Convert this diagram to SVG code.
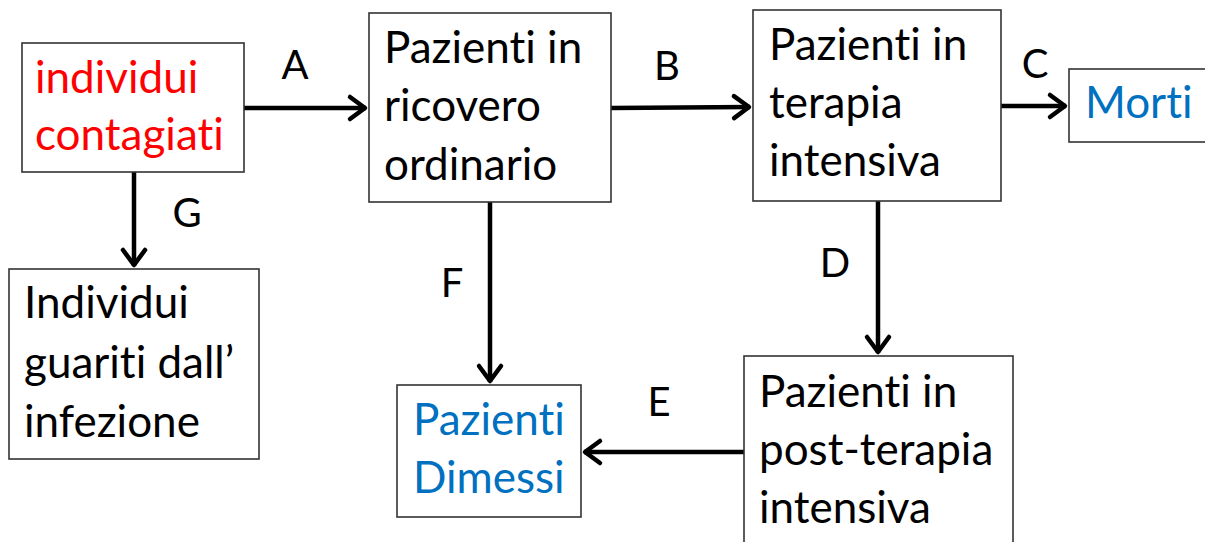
<svg xmlns="http://www.w3.org/2000/svg" width="1205" height="542" viewBox="0 0 1205 542">
<defs>
<style>
.box{fill:#fff;stroke:#333;stroke-width:1.6}
.t{font-family:Lato,"Open Sans","Liberation Sans",sans-serif;font-size:44px;fill:#000;font-variant-ligatures:none;font-feature-settings:"liga" 0,"clig" 0}
.red{fill:#ff0000}
.blue{fill:#0070c0}
.lbl{font-family:Lato,"Open Sans","Liberation Sans",sans-serif;font-size:40px;fill:#000;text-anchor:middle}
.c{stroke:#000;stroke-width:4.5;fill:none;marker-end:url(#ah)}
</style>
<marker id="ah" markerUnits="userSpaceOnUse" markerWidth="30" markerHeight="30" viewBox="-20 -15 24 30" refX="1" refY="0" orient="auto">
<path d="M-15,-11 L0,0 L-15,11" fill="none" stroke="#000" stroke-width="4.5" stroke-linejoin="round" stroke-linecap="round"/>
</marker>
</defs>
<rect width="1205" height="542" fill="#fff"/>
<g id="connectors">
<line class="c" x1="244" y1="108" x2="366" y2="108"/>
<line class="c" x1="611" y1="108" x2="750" y2="107"/>
<line class="c" x1="1001" y1="106" x2="1066" y2="106"/>
<line class="c" x1="134" y1="172" x2="134" y2="266"/>
<line class="c" x1="490" y1="202" x2="490" y2="382"/>
<line class="c" x1="878" y1="201" x2="878" y2="353"/>
<line class="c" x1="744" y1="452" x2="584" y2="452"/>
<text class="lbl" x="295" y="79">A</text>
<text class="lbl" x="667" y="80">B</text>
<text class="lbl" x="1035" y="78">C</text>
<text class="lbl" x="187" y="227">G</text>
<text class="lbl" x="452" y="297">F</text>
<text class="lbl" x="835" y="277">D</text>
<text class="lbl" x="659" y="416">E</text>
</g>
<g id="contagiati">
<rect class="box" x="22" y="43" width="222" height="129"/>
<text class="t red" x="35" y="93">individui</text>
<text class="t red" x="35" y="150">contagiati</text>
</g>
<g id="ricovero">
<rect class="box" x="369" y="13" width="242" height="189"/>
<text class="t" x="384" y="63">Pazienti in</text>
<text class="t" x="384" y="121">ricovero</text>
<text class="t" x="384" y="180">ordinario</text>
</g>
<g id="terapia">
<rect class="box" x="753" y="10" width="248" height="191"/>
<text class="t" x="769" y="60">Pazienti in</text>
<text class="t" x="769" y="118">terapia</text>
<text class="t" x="769" y="176">intensiva</text>
</g>
<g id="morti">
<rect class="box" x="1069" y="69" width="145" height="73"/>
<text class="t blue" x="1085" y="118">Morti</text>
</g>
<g id="guariti">
<rect class="box" x="9" y="269" width="250" height="190"/>
<text class="t" x="24" y="318">Individui</text>
<text class="t" x="24" y="378">guariti dall’</text>
<text class="t" x="24" y="437">infezione</text>
</g>
<g id="dimessi">
<rect class="box" x="397" y="385" width="184" height="132"/>
<text class="t blue" x="413" y="435">Pazienti</text>
<text class="t blue" x="413" y="493">Dimessi</text>
</g>
<g id="postterapia">
<rect class="box" x="744" y="356" width="269" height="195"/>
<text class="t" x="759" y="407">Pazienti in</text>
<text class="t" x="759" y="465">post-terapia</text>
<text class="t" x="759" y="523">intensiva</text>
</g>
</svg>
